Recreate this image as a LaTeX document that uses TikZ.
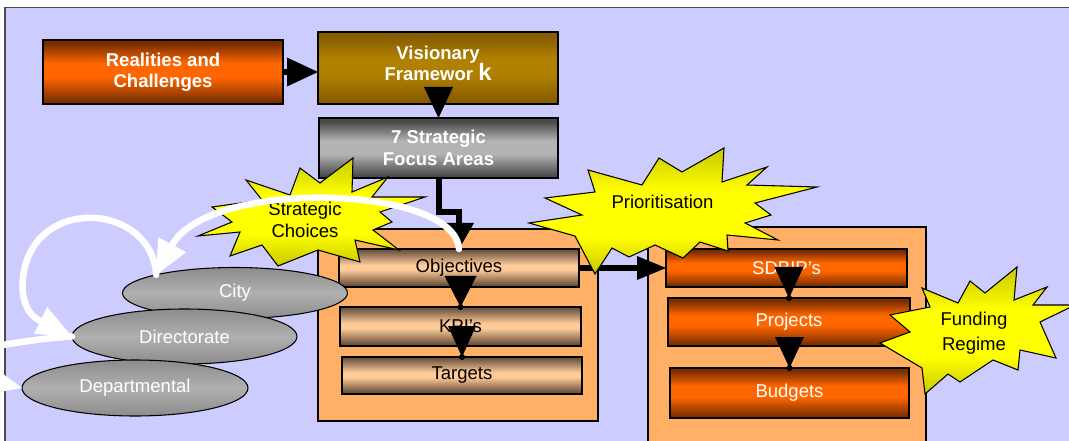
\documentclass[tikz,border=0pt]{standalone}
\usepackage{fontspec}
\setmainfont{Liberation Sans}
\usetikzlibrary{calc,shapes.geometric}
\definecolor{lav}{HTML}{CCCCFF}
\definecolor{odark}{HTML}{7A2E00}
\definecolor{omid}{HTML}{FF6600}
\definecolor{vdark}{HTML}{855C00}
\definecolor{vmid}{HTML}{B08000}
\definecolor{gdark}{HTML}{4A4A4A}
\definecolor{gmid}{HTML}{B3B3B3}
\definecolor{pdark}{HTML}{5E4632}
\definecolor{pdarkt}{HTML}{6E5540}
\definecolor{pmid}{HTML}{FFCC99}
\definecolor{contc}{HTML}{FFB066}
\definecolor{ydark}{HTML}{C8C800}
\definecolor{ymid}{HTML}{FFFF00}
\definecolor{eldark}{HTML}{8C8C8C}
\definecolor{elmid}{HTML}{B0B0B0}
\pgfdeclareverticalshading{obarsh}{100bp}{color(0bp)=(odark); color(27bp)=(odark); color(46bp)=(omid); color(57bp)=(omid); color(72bp)=(odark); color(100bp)=(odark)}
\pgfdeclareverticalshading{vbarsh}{100bp}{color(0bp)=(vdark); color(27bp)=(vdark); color(45bp)=(vmid); color(57bp)=(vmid); color(72bp)=(vdark); color(100bp)=(vdark)}
\pgfdeclareverticalshading{gbarsh}{100bp}{color(0bp)=(gdark); color(27bp)=(gdark); color(45bp)=(gmid); color(56bp)=(gmid); color(72bp)=(gdark); color(100bp)=(gdark)}
\pgfdeclareverticalshading{pbarsh}{100bp}{color(0bp)=(pdark); color(26bp)=(pdark); color(48bp)=(pmid); color(54bp)=(pmid); color(73bp)=(pdarkt); color(100bp)=(pdarkt)}
\pgfdeclareverticalshading{ysh}{100bp}{color(0bp)=(ydark); color(25bp)=(ydark); color(40bp)=(ymid); color(58bp)=(ymid); color(75bp)=(ydark); color(100bp)=(ydark)}
\tikzset{
  fnt/.style={font=\fontsize{13.9pt}{16pt}\selectfont},
  boxb/.style={draw=black, line width=1.1pt, inner sep=0pt, outer sep=0pt, align=center},
  hdr/.style={boxb, text=white, font=\fontsize{13.9pt}{16pt}\selectfont\bfseries},
  barw/.style={boxb, shading=obarsh, text=white, fnt},
  barp/.style={boxb, shading=pbarsh, text=black, fnt},
  contbox/.style={draw=black, line width=1.1pt, fill=contc, inner sep=0pt, outer sep=0pt},
  ell/.style={ellipse, draw=black, line width=0.8pt, top color=eldark, bottom color=eldark, middle color=elmid, text=white, fnt, inner sep=0pt, outer sep=0pt},
  burst/.style={draw=black, line width=0.8pt, line join=miter, shading=ysh},
  conn/.style={draw=black, line width=4.5pt},
  thinconn/.style={draw=black, line width=0.5pt},
  warr/.style={draw=white, line width=4.9pt, line cap=round},
}
\begin{document}
\begin{tikzpicture}[x=0.75pt,y=-0.75pt]
\useasboundingbox (0,0) rectangle (1069,441);
\clip (0,0) rectangle (1069,441);
\fill[white] (0,0) rectangle (1069,441);
\draw[fill=lav, draw=black!70, line width=0.9pt] (5,7.5) rectangle (1100,470);

% top boxes
\node[hdr, shading=obarsh, minimum width=180pt, minimum height=48pt] (real) at (163,72) {Realities and\\Challenges};
\node[hdr, shading=vbarsh, minimum width=180pt, minimum height=54pt] (vis) at (438,68) {Visionary\\Framewor {\fontsize{17.8pt}{16pt}\selectfont k}\rule[-7pt]{0pt}{1pt}};
\node[hdr, shading=gbarsh, minimum width=179.25pt, minimum height=45pt] (sfa) at (438.5,148) {7 Strategic\\Focus Areas};

% top arrows
\coordinate (rv) at (real.east -| vis.west);
\draw[conn] (real.east) -- ($(rv)+(-24,0)$);
\fill (rv) -- ++(-31,-14.5) -- ++(0,29) -- cycle;
\draw[conn] (vis.south) -- ($(sfa.north)+(0,-20)$);
\fill (sfa.north) -- ++(-14.5,-31) -- ++(29,0) -- cycle;

% containers
\node[contbox, minimum width=210pt, minimum height=144pt] (contL) at (458,325) {};
\node[contbox, minimum width=208.5pt, minimum height=174.75pt] (contR) at (787,343.5) {};

% bars
\node[barp, minimum width=180pt, minimum height=28.5pt] (obj) at (459,268) {Objectives};
\node[barp, minimum width=180.75pt, minimum height=29.25pt] (kpi) at (460.5,326.5) {KPI’s};
\node[barp, minimum width=180pt, minimum height=27.75pt] (tgt) at (462,375.5) {Targets};
\node[barw, minimum width=180.75pt, minimum height=28.5pt] (sdb) at (786.5,268) {SDBIP’s};
\node[barw, minimum width=181.5pt, minimum height=36pt] (prj) at (789,322) {Projects};
\node[barw, minimum width=179.25pt, minimum height=37.5pt] (bud) at (789.5,393) {Budgets};

% 7 Strategic -> Objectives
\draw[conn, line join=miter] (sfa.south) -- ++(0,34) -| ($(obj.north)+(0,-22)$);
\fill (obj.north) -- ++(-15,-26) -- ++(30,0) -- cycle;

% internal arrows
\draw[thinconn] (obj.south -| kpi.north) -- (kpi.north);
\fill (kpi.north) -- ++(-16,-31) -- ++(32,0) -- cycle;
\fill (kpi.north) circle[radius=2.3pt];
\draw[thinconn] (kpi.south -| tgt.north) -- (tgt.north);
\fill (tgt.north) -- ++(-14,-31) -- ++(28,0) -- cycle;
\fill (tgt.north) circle[radius=2.3pt];
\draw[thinconn] (sdb.south -| prj.north) -- (prj.north);
\fill (prj.north) -- ++(-14.5,-31) -- ++(29,0) -- cycle;
\fill (prj.north) circle[radius=2.3pt];
\draw[thinconn] (prj.south -| bud.north) -- (bud.north);
\fill (bud.north) -- ++(-14.5,-31) -- ++(29,0) -- cycle;
\fill (bud.north) circle[radius=2.3pt];

% Objectives -> SDBIP's
\draw[conn] (obj.east) -- ($(sdb.west)+(-22,0)$);
\fill (sdb.west) -- ++(-29,-12) -- ++(0,24) -- cycle;

% starbursts
\path[burst] (353,158) -- (352,192) -- (388,177) -- (372,197) -- (425,197) -- (380,212) -- (392,222) -- (373,230) -- (399,250) -- (355,240) -- (360,262) -- (318,250) -- (278,266) -- (262,245) -- (230,256) -- (240,232) -- (198,236) -- (232,222) -- (212,207) -- (262,200) -- (246,180) -- (290,195) -- (300,168) -- (320,183) -- cycle;
\node[align=center, font=\fontsize{13.9pt}{16.5pt}\selectfont] (scT) at (305,220) {Strategic\\Choices};

\path[burst] (724,148) -- (722,182) -- (767,167) -- (747,185) -- (817,187) -- (755,203) -- (771,215) -- (745,223) -- (778,240) -- (727,235) -- (728,251) -- (700,242) -- (683,258) -- (655,245) -- (629,257) -- (612,248) -- (595,274) -- (575,236) -- (529,223) -- (582,215) -- (545,198) -- (595,192) -- (588,170) -- (642,185) -- (659,158) -- (682,172) -- cycle;
\node[fnt] (prT) at (662.5,201.5) {Prioritisation};

\path[burst] (1017,267) -- (1014,300) -- (1047,287) -- (1033,305) -- (1075,305) -- (1040,322) -- (1056,358) -- (1020,350) -- (1018,370) -- (993,360) -- (960,382) -- (948,374) -- (925,394) -- (922,368) -- (880,343) -- (910,332) -- (890,315) -- (930,307) -- (922,288) -- (958,303) -- (970,281) -- (985,293) -- cycle;
\node[align=center, font=\fontsize{13.9pt}{18.5pt}\selectfont] (frT) at (974,333) {Funding\\Regime};

% ellipses
\node[ell, minimum width=168.75pt, minimum height=38.25pt] (city) at (235,293) {City};
\node[ell, minimum width=168.75pt, minimum height=41.25pt] (dir) at (184.5,336.5) {Directorate};
\node[ell, minimum width=169.5pt, minimum height=42pt] (dep) at (135,388) {Departmental};

% white arrows
\coordinate (ct) at (city.167);
\draw[warr] (obj.north) .. controls ($(obj.north)+(-4,-64)$) and ($(ct)+(54,-97)$) .. ($(ct)+(16,-30)$);
\fill[white] (ct) -- ++(30,-22.5) -- ++(-28,-15) -- cycle;

\coordinate (dw) at (dir.west);
\draw[warr] (ct) .. controls ($(ct)+(-4,-70)$) and ($(ct)+(-116,-80)$) .. ($(ct)+(-132,-5)$) .. controls ($(dw)+(-53,-40.5)$) and ($(dw)+(-46,-22.5)$) .. ($(dw)+(-31.5,-15.5)$);
\fill[white] (dw) -- ++(-38.2,-2.6) -- ++(13.4,-26.8) -- cycle;

\coordinate (offC) at (-15,348);
\draw[warr] (dw) .. controls ($(dw)+(-27,1.5)$) and ($(dw)+(-52,5.5)$) .. (offC);

\coordinate (dpw) at (dep.west);
\coordinate (offD) at (-40,375);
\draw[warr] (offD) -- ($(dpw)+(-33,-8)$);
\fill[white] (dpw) -- ++(-30.5,-22.6) -- ++(-7,29.2) -- cycle;
\end{tikzpicture}
\end{document}
